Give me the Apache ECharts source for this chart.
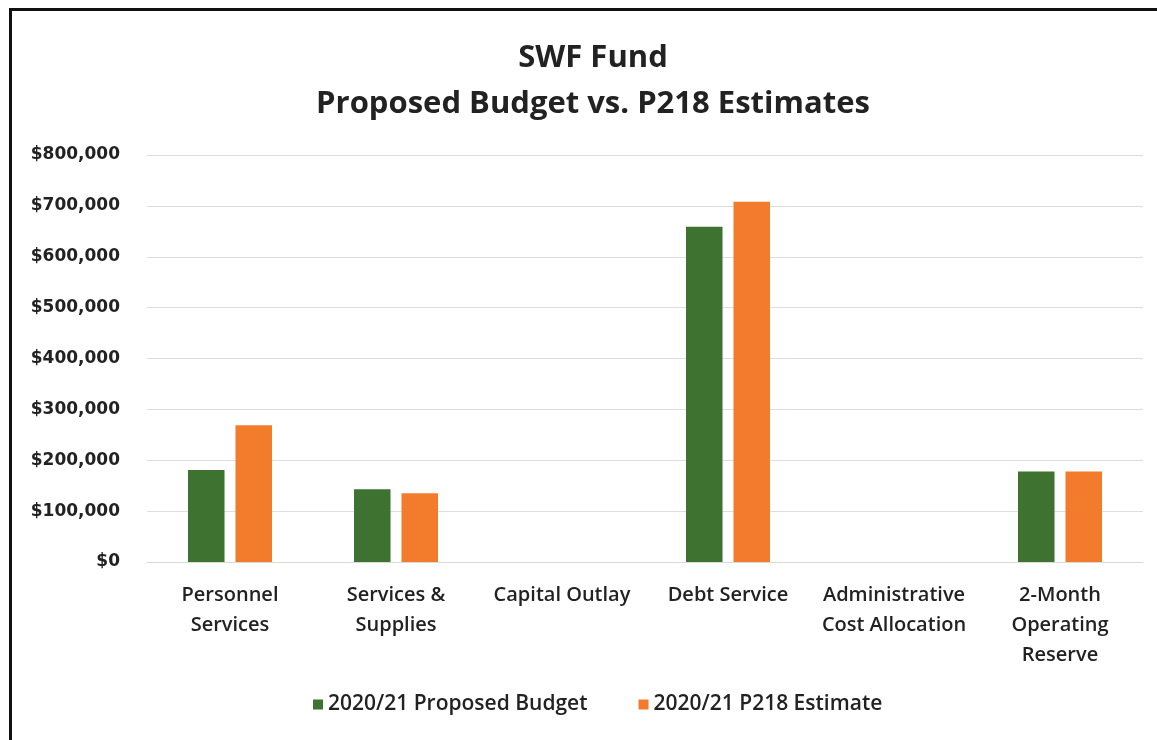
<!DOCTYPE html>
<html><head><meta charset="utf-8">
<script src="https://cdn.jsdelivr.net/npm/echarts@6/dist/echarts.min.js"></script>
<style>html,body{margin:0;padding:0;background:#fff}#c{width:1157px;height:740px}</style>
</head><body><div id="c"></div>
<script>
const categories = ['Personnel\nServices', 'Services &\nSupplies', 'Capital Outlay', 'Debt Service', 'Administrative\nCost Allocation', '2-Month\nOperating\nReserve'];
const proposedBudget = [181000, 143000, 0, 659000, 0, 178000];
const p218Estimate = [269000, 135000, 0, 708000, 0, 178000];
const seriesNames = ['2020/21 Proposed Budget', '2020/21 P218 Estimate'];
const titleText = 'SWF Fund\nProposed Budget vs. P218 Estimates';

const chart = echarts.init(document.getElementById('c'));
chart.setOption({
  backgroundColor: '#fff',
  animation: false,
  title: {
    text: titleText, left: 588, textAlign: 'center', top: 30,
    textStyle: { fontFamily: 'Open Sans', fontWeight: 'bold', fontSize: 31, lineHeight: 46, color: '#222', align: 'center' }
  },
  legend: {
    bottom: 20, left: 308, itemWidth: 10, itemHeight: 10, itemGap: 51,
    icon: 'rect',
    textStyle: { fontFamily: 'Open Sans', fontWeight: 600, fontSize: 21, color: '#222' },
    data: seriesNames
  },
  grid: { left: 147, right: 14, top: 155, bottom: 178, containLabel: false },
  xAxis: {
    type: 'category', data: categories,
    axisLine: { lineStyle: { color: '#d9d9d9' } },
    axisTick: { show: false },
    axisLabel: { interval: 0, margin: 18, fontFamily: 'Open Sans', fontWeight: 600, fontSize: 20, lineHeight: 30, color: '#222' }
  },
  yAxis: {
    type: 'value', min: 0, max: 800000, interval: 100000,
    axisLine: { show: false }, axisTick: { show: false },
    splitLine: { lineStyle: { color: '#dedede' } },
    axisLabel: {
      margin: 27, fontFamily: 'DejaVu Sans', fontWeight: 'bold', fontSize: 17, color: '#222',
      formatter: v => '$' + v.toLocaleString('en-US')
    }
  },
  series: [
    { name: seriesNames[0], type: 'bar', data: proposedBudget, barWidth: '22%', barGap: '30%', itemStyle: { color: '#3d7231' } },
    { name: seriesNames[1], type: 'bar', data: p218Estimate, barWidth: '22%', itemStyle: { color: '#f27b2c' } }
  ],
  graphic: [
    { type: 'rect', shape: { x: 9, y: 8, width: 1148, height: 3 }, style: { fill: '#111' } },
    { type: 'rect', shape: { x: 9, y: 8, width: 3, height: 732 }, style: { fill: '#111' } }
  ]
});
</script></body></html>
